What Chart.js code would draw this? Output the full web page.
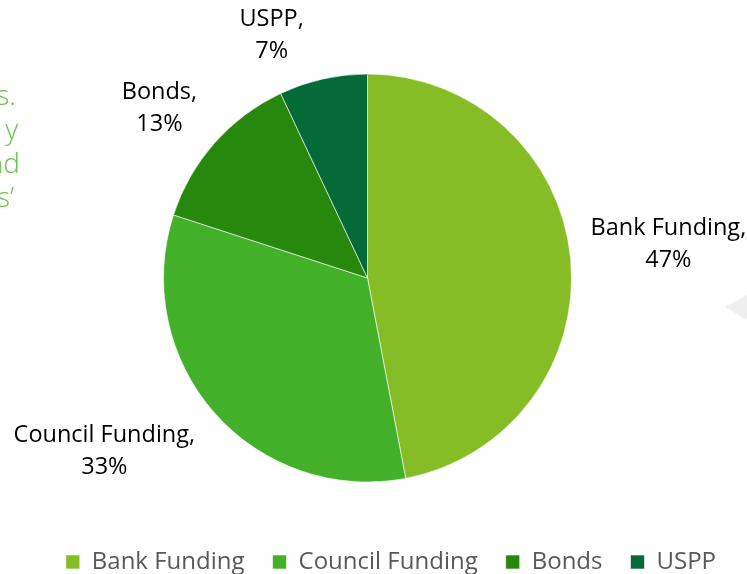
<!DOCTYPE html>
<html>
<head>
<meta charset="utf-8">
<script src="https://cdn.jsdelivr.net/npm/chart.js@4/dist/chart.umd.min.js"></script>
<style>
  html, body { margin: 0; padding: 0; background: #fff; overflow: hidden; }
  #wrap { position: relative; width: 747px; height: 574px; }
  #side {
    position: absolute; left: -300px; top: 77px; width: 320px;
    text-align: right; font-family: "Open Sans", sans-serif; font-size: 28px;
    line-height: 34px; color: #6cc04a; font-weight: 300;
  }
  #side span { display: block; }
  #arrow {
    position: absolute; left: 725px; top: 295px; width: 0; height: 0;
    border-top: 12px solid transparent; border-bottom: 13px solid transparent;
    border-right: 22px solid #efefef;
  }
</style>
</head>
<body>
<div id="wrap">
  <canvas id="fundingChart" width="747" height="574"></canvas>
  <div id="side">
    <span style="padding-right:4px">s.</span>
    <span style="padding-right:2px">y</span>
    <span>nd</span>
    <span style="padding-right:6px">s’</span>
  </div>
  <div id="arrow"></div>
</div>
<script>
// Funding mix, percentages
const categories = ['Bank Funding', 'Council Funding', 'Bonds', 'USPP'];
const shares = [47, 33, 13, 7];
const sliceColors = ['#86bc25', '#43b02a', '#26890d', '#046a38'];

// where each outside label sits, relative to pie centre, in units of the radius
const labelSpots = [[1.475, -0.165], [-1.29, 0.85], [-1.02, -0.83], [-0.47, -1.19]];

const sliceLabels = {
  id: 'sliceLabels',
  afterDatasetsDraw(chart) {
    const ctx = chart.ctx;
    const arcs = chart.getDatasetMeta(0).data;
    ctx.save();
    ctx.font = '23.5px "Open Sans"';
    ctx.fillStyle = '#000';
    ctx.textAlign = 'center';
    ctx.textBaseline = 'middle';
    arcs.forEach((arc, i) => {
      const r = arc.outerRadius;
      const x = arc.x + labelSpots[i][0] * r;
      const y = arc.y + labelSpots[i][1] * r;
      ctx.fillText(categories[i] + ',', x, y - 16);
      ctx.fillText(shares[i] + '%', x, y + 16);
    });
    ctx.restore();
  }
};

const ctx = document.getElementById('fundingChart').getContext('2d');
const myChart = new Chart(ctx, {
  type: 'pie',
  data: {
    labels: categories,
    datasets: [{
      data: shares,
      backgroundColor: sliceColors,
      borderColor: '#ffffff',
      borderWidth: 0.6,
      radius: 204
    }]
  },
  options: {
    responsive: false,
    animation: false,
    layout: { padding: { top: 34, right: 3, left: 0, bottom: -10 } },
    plugins: {
      tooltip: { enabled: false },
      // blank strip on the right so the pie sits a little left of the legend's span
      title: {
        display: true,
        text: ' ',
        position: 'right',
        fullSize: false,
        padding: 0,
        font: { size: 7.5 }
      },
      legend: {
        position: 'bottom',
        align: 'end',
        labels: {
          font: { family: '"Open Sans"', size: 24 },
          color: '#595959',
          boxWidth: 14,
          boxHeight: 14,
          padding: 28
        }
      }
    }
  },
  plugins: [sliceLabels]
});
</script>
</body>
</html>
